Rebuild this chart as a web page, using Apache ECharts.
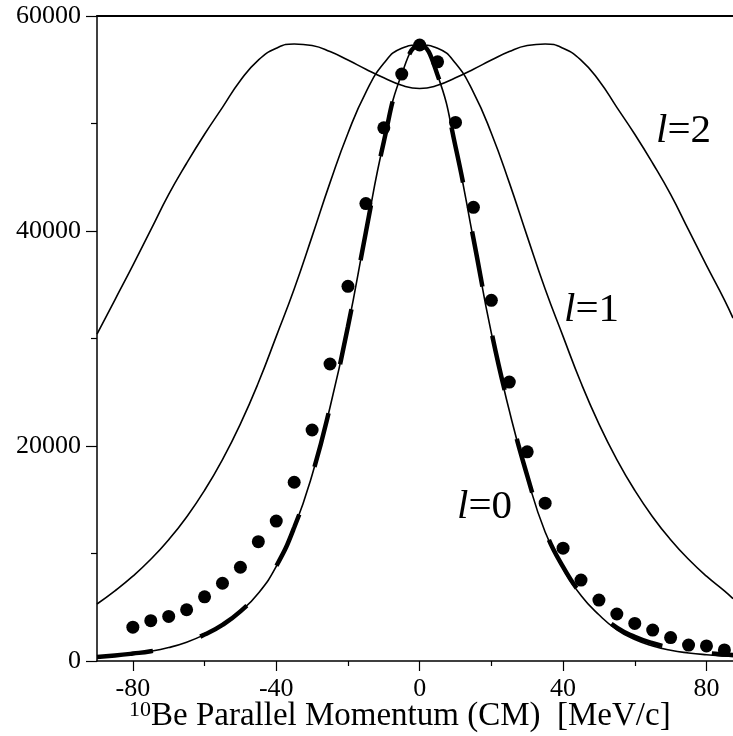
<!DOCTYPE html>
<html>
<head>
<meta charset="utf-8">
<script src="https://cdn.jsdelivr.net/npm/echarts@6/dist/echarts.min.js"></script>
<style>
  html, body { margin: 0; padding: 0; background: #fff; }
  #main { width: 733px; height: 736px; }
</style>
</head>
<body>
<div id="main"></div>
<script>
// momentum grid for the calculated curves
var curveX = [-90, -85, -80, -75, -70, -65, -60, -55, -50, -45, -40, -35, -30, -25, -20, -15, -10, -5, 0,
              5, 10, 15, 20, 25, 30, 35, 40, 45, 50, 55, 60, 65, 70, 75, 80, 85, 87.4];
// l=0 (thin solid)
var l0Vals = [370, 500, 680, 900, 1250, 1750, 2450, 3350, 4600, 6300, 8800, 12400, 17300, 23600, 31100, 39900, 48300, 54600, 57300,
              54500, 47800, 39200, 30500, 23300, 17100, 12000, 8600, 6100, 4300, 2900, 2000, 1400, 1000, 750, 580, 460, 420];
// thick dashed curve
var dashVals = [380, 510, 690, 910, 1260, 1760, 2460, 3360, 4620, 6320, 8820, 12420, 17320, 23620, 31120, 39900, 48300, 54600, 57300,
                54500, 47850, 39300, 30650, 23450, 17250, 12150, 8750, 6250, 4450, 3100, 2250, 1650, 1250, 950, 750, 600, 550];
// l=1
var l1Vals = [5300, 6520, 7890, 9460, 11280, 13400, 15870, 18740, 22060, 25880, 30200, 34600, 39500, 44500, 49100, 52900, 55600, 57000, 57300,
              57000, 55600, 52900, 49100, 44500, 39500, 34600, 30200, 25880, 22060, 18740, 15870, 13400, 11280, 9460, 7890, 6520, 5800];
// l=2
var l2Vals = [30400, 33600, 36800, 40100, 43400, 46300, 49000, 51500, 54000, 55900, 57000, 57400, 57250, 56700, 55900, 55050, 54250, 53550, 53250,
              53550, 54250, 55050, 55900, 56700, 57250, 57400, 57000, 55900, 54000, 51500, 49000, 46300, 43400, 40100, 36800, 33600, 31900];
// measured points
var dotX = [-80, -75, -70, -65, -60, -55, -50, -45, -40, -35, -30, -25, -20, -15, -10, -5, 0,
            5, 10, 15, 20, 25, 30, 35, 40, 45, 50, 55, 60, 65, 70, 75, 80, 85];
var dotY = [3150, 3750, 4150, 4770, 5970, 7230, 8720, 11100, 13020, 16630, 21490, 27630, 34850, 42550, 49600, 54600, 57300,
            55740, 50100, 42200, 33550, 25950, 19460, 14680, 10500, 7530, 5670, 4370, 3500, 2880, 2180, 1480, 1400, 1030];
var xMajor = [-80, -40, 0, 40, 80];
var xMinor = [-60, -20, 20, 60];

function pairs(xs, ys) {
    var out = [];
    for (var i = 0; i < xs.length; i++) out.push([xs[i], ys[i]]);
    return out;
}

var myChart = echarts.init(document.getElementById('main'));
var serif = 'Liberation Serif';
var lineThin = { color: '#000', width: 1.6 };
var italicL = { i: { fontStyle: 'italic', fontSize: 41, fontFamily: serif } };

var option = {
    animation: false,
    backgroundColor: '#fff',
    grid: { left: 97, right: 0, top: 16, bottom: 75 },
    xAxis: [
        {
            type: 'value', min: -90, max: 87.4, position: 'bottom',
            axisLine: { lineStyle: { color: '#000', width: 1.5 } },
            axisTick: { customValues: xMajor, length: 10, lineStyle: { color: '#000', width: 1.2 } },
            axisLabel: { customValues: xMajor, margin: 15, color: '#000', fontFamily: serif, fontSize: 26 },
            splitLine: { show: false }
        },
        {
            type: 'value', min: -90, max: 87.4, position: 'bottom',
            axisLine: { show: false },
            axisTick: { customValues: xMinor, length: 5, lineStyle: { color: '#000', width: 1.2 } },
            axisLabel: { show: false },
            splitLine: { show: false }
        },
        {
            type: 'value', min: -90, max: 87.4, position: 'top',
            axisLine: { lineStyle: { color: '#000', width: 2 } },
            axisTick: { show: false },
            axisLabel: { show: false },
            splitLine: { show: false }
        }
    ],
    yAxis: {
        type: 'value', min: 0, max: 60000, interval: 20000,
        axisLine: { show: true, onZero: false, lineStyle: { color: '#000', width: 1.5 } },
        axisTick: { show: true, length: 11, lineStyle: { color: '#000', width: 1.2 } },
        minorTick: { show: true, splitNumber: 2, length: 6, lineStyle: { color: '#000', width: 1.2 } },
        axisLabel: { margin: 16, color: '#000', fontFamily: serif, fontSize: 26,
                     formatter: function (v) { return String(v); } },
        splitLine: { show: false }
    },
    series: [
        { type: 'line', data: pairs(curveX, l2Vals), smooth: true, symbol: 'none', lineStyle: lineThin },
        { type: 'line', data: pairs(curveX, l1Vals), smooth: true, symbol: 'none', lineStyle: lineThin },
        { type: 'line', data: pairs(curveX, l0Vals), smooth: true, symbol: 'none', lineStyle: lineThin },
        { type: 'line', data: pairs(curveX, dashVals), smooth: true, symbol: 'none',
          lineStyle: { color: '#000', width: 4.5, type: [56, 50], cap: 'butt' } },
        { type: 'scatter', data: pairs(dotX, dotY), symbol: 'circle', symbolSize: 13,
          itemStyle: { color: '#000', opacity: 1 } }
    ],
    graphic: [
        { type: 'text', x: 656, y: 131, style: { text: '{i|l}=2', verticalAlign: 'middle', fill: '#000',
            font: '41px ' + serif, rich: italicL } },
        { type: 'text', x: 564, y: 310, style: { text: '{i|l}=1', verticalAlign: 'middle', fill: '#000',
            font: '41px ' + serif, rich: italicL } },
        { type: 'text', x: 457, y: 507, style: { text: '{i|l}=0', verticalAlign: 'middle', fill: '#000',
            font: '41px ' + serif, rich: italicL } },
        { type: 'text', x: 129, y: 716, style: { text: '{s|10}Be Parallel Momentum (CM)  [MeV/c]', verticalAlign: 'middle',
            fill: '#000', font: '33px ' + serif,
            rich: { s: { fontSize: 22, fontFamily: serif, verticalAlign: 'top', padding: [0, 0, 12, 0] } } } }
    ]
};
myChart.setOption(option);
</script>
</body>
</html>
